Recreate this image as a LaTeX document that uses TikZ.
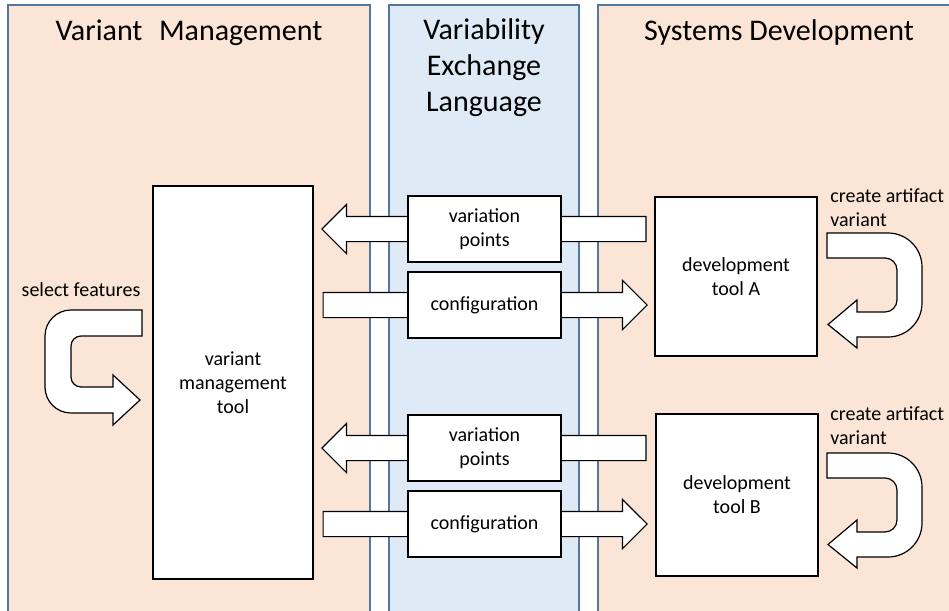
\documentclass[tikz,border=0pt]{standalone}
\usepackage{fontspec}
\setmainfont{Carlito}
\usepackage{tikz}
\usetikzlibrary{shapes.arrows}
\usetikzlibrary{calc,backgrounds}
\definecolor{peach1} {RGB} {251, 229, 214}
\definecolor{blue1} {RGB} {222, 235, 247}
\definecolor{steel1} {RGB} {84, 119, 160}
\tikzstyle{vel}=[
  x=0.5pt, y=-0.5pt, font=\fontsize{10}{12}\selectfont
]
\tikzstyle{velcol}=[
  line width=0.75pt, draw=steel1
]
\tikzstyle{veltitle}=[
  font=\fontsize{15}{18}\selectfont, align=center, inner sep=0pt
]
\tikzstyle{veltool}=[
  draw, fill=white, line width=0.8pt, align=center
]
\tikzstyle{velfile}=[
  veltool, minimum width=76.5pt, minimum height=33pt
]
\tikzstyle{velarrow}=[
  draw, fill=white, line width=0.6pt, single arrow, single arrow head extend=6pt,
  minimum width=24pt, minimum height=162pt, inner xsep=0pt, inner ysep=6pt, anchor=tail
]
\tikzstyle{veluturn}=[
  draw, fill=white, line width=0.6pt
]
\tikzstyle{velnote}=[
  inner sep=0pt, align=left
]

\begin{document}
\begin{tikzpicture}[vel]
    \useasboundingbox (0,0) rectangle (949,611);
    \node (vmtool) [veltool, minimum width=80pt, minimum height=196.5pt] at (233,382.5) {variant\\management\\tool};
    \node (devA) [veltool, minimum width=81pt, minimum height=79.5pt] at (736,276.5) {development\\tool A};
    \node (devB) [veltool, minimum width=81pt, minimum height=81pt] at (737,495) {development\\tool B};
    \node (vp1) [velfile] at (484.5,229) {variation\\points};
    \node (cfg1) [velfile] at ($(vp1) + (0,76)$) {configuration};
    \node (vp2) [velfile] at ($(vp1) + (0,219)$) {variation\\points};
    \node (cfg2) [velfile] at ($(vp2) + (0,76)$) {configuration};
    \node (vmtitle) [veltitle, anchor=base] at (189,40) {Variant\hspace{0.55em}Management};
    \node (exchtitle) [veltitle] at (484,68) {Variability\\Exchange\\Language};
    \node (sdtitle) [veltitle, anchor=base] at (779,40) {Systems Development};
    \node (selnote) [velnote] at (81,290) {select features};
    \node (noteA) [velnote, anchor=north west] at (830,188) {create artifact\\variant};
    \node (noteB) [velnote, anchor=north west] at (830,406) {create artifact\\variant};
    % feedback arrows
    \draw [veluturn] (142,310) -- (71,310) arc[start angle=270, end angle=180, radius=26]
        -- (45,387) arc[start angle=180, end angle=90, radius=26] -- (113,413)
        -- (113,425) -- (140,400) -- (113,375) -- (113,387)
        -- (81,387) arc[start angle=90, end angle=180, radius=10]
        -- (71,346) arc[start angle=180, end angle=270, radius=10] -- (142,336) -- cycle;
    \draw [veluturn] (827,233) -- (888,233) arc[start angle=270, end angle=360, radius=34]
        -- (922,303) arc[start angle=0, end angle=90, radius=34] -- (857,337)
        -- (857,348) -- (828,324.5) -- (857,300) -- (857,312)
        -- (885,312) arc[start angle=90, end angle=0, radius=12]
        -- (897,270) arc[start angle=0, end angle=-90, radius=12] -- (827,258) -- cycle;
    \draw [veluturn] (827,453) -- (888,453) arc[start angle=270, end angle=360, radius=34]
        -- (922,523) arc[start angle=0, end angle=90, radius=34] -- (857,557)
        -- (857,568) -- (828,544.5) -- (857,520) -- (857,532)
        -- (885,532) arc[start angle=90, end angle=0, radius=12]
        -- (897,490) arc[start angle=0, end angle=-90, radius=12] -- (827,478) -- cycle;
    \begin{scope}[on background layer]
    \draw [velcol, fill=peach1] (8,5) rectangle (370,625);
    \draw [velcol, fill=blue1] (389,5) rectangle (579,625);
    \draw [velcol, fill=peach1] (598,5) rectangle (960,625);
    \node (vparr1) [velarrow, shape border rotate=180] at ($(vp1) + (162,0)$) {};
    \node (cfgarr1) [velarrow] at ($(cfg1) + (-162,0)$) {};
    \node (vparr2) [velarrow, shape border rotate=180] at ($(vp2) + (162,0)$) {};
    \node (cfgarr2) [velarrow] at ($(cfg2) + (-162,0)$) {};
    \end{scope}
\end{tikzpicture}
\end{document}
